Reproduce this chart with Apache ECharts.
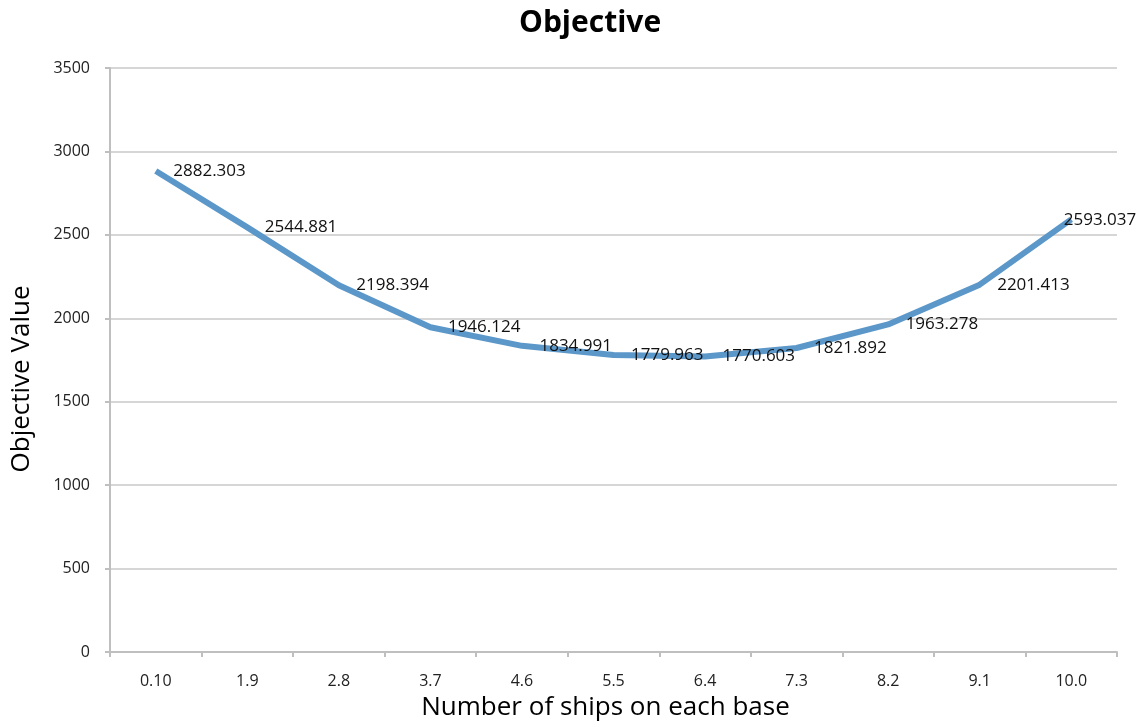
<!DOCTYPE html>
<html><head><meta charset="utf-8">
<script src="https://cdn.jsdelivr.net/npm/echarts@6/dist/echarts.min.js"></script>
<style>html,body{margin:0;padding:0;background:#fff}#c{width:1143px;height:721px}</style>
</head><body><div id="c"></div>
<script>
const categories = ["0.10","1.9","2.8","3.7","4.6","5.5","6.4","7.3","8.2","9.1","10.0"];
const values = [2882.303,2544.881,2198.394,1946.124,1834.991,1779.963,1770.603,1821.892,1963.278,2201.413,2593.037];
const yTicks = {min:0,max:3500,interval:500};

const chart = echarts.init(document.getElementById('c'));
const F = "'Open Sans', 'Liberation Sans', sans-serif";
chart.setOption({
  animation:false,
  title:{text:'Objective',left:514,top:3,textStyle:{fontFamily:F,fontWeight:'bold',fontSize:30,color:'#000'}},
  grid:{left:110,right:26,top:68,bottom:69,outerBoundsMode:'none',containLabel:false},
  xAxis:{type:'category',data:categories,boundaryGap:true,
    name:'Number of ships on each base',nameLocation:'middle',nameGap:43,
    nameTextStyle:{fontFamily:F,fontSize:26,color:'#000',padding:[0,16,0,0]},
    axisLine:{lineStyle:{color:'#bfbfbf',width:2}},
    axisTick:{show:true,length:5,lineStyle:{color:'#bfbfbf',width:2}},
    axisLabel:{fontFamily:F,fontSize:16,color:'#222',margin:21}},
  yAxis:{type:'value',min:yTicks.min,max:yTicks.max,interval:yTicks.interval,
    name:'Objective Value',nameLocation:'middle',nameGap:75,
    nameTextStyle:{fontFamily:F,fontSize:26,color:'#000',padding:[0,38,0,0]},
    axisLine:{show:true,lineStyle:{color:'#bfbfbf',width:2}},
    axisTick:{show:true,length:5,lineStyle:{color:'#bfbfbf',width:2}},
    splitLine:{lineStyle:{color:'#c8c8c8',width:1.5}},
    axisLabel:{fontFamily:F,fontSize:16,color:'#222',margin:20,formatter:v=>String(v)}},
  series:[{type:'line',
    data:values.map((v,i)=>i===values.length-1?{value:v,label:{position:[-7,-7],offset:[0,0]}}:v),
    symbol:'circle',symbolSize:1,showSymbol:true,itemStyle:{color:'rgba(0,0,0,0)'},
    lineStyle:{color:'#5b97c9',width:6},
    labelLayout:{hideOverlap:false},
    label:{show:true,position:'right',distance:17,offset:[0,3],fontFamily:F,fontSize:17,color:'#111',
      formatter:p=>p.value.toFixed(3)}}]
});
</script></body></html>
